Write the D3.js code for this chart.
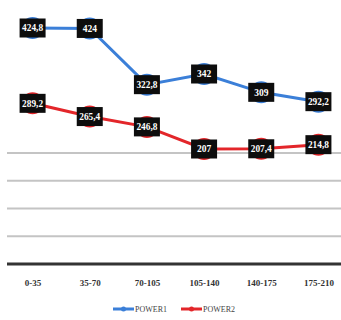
<!DOCTYPE html>
<html>
<head>
<meta charset="utf-8">
<script src="https://cdn.jsdelivr.net/npm/d3@7"></script>
<style>
  html, body { margin: 0; padding: 0; background: #fff; overflow: hidden; }
  svg { display: block; }
</style>
</head>
<body>
<svg id="chart" width="341" height="320"></svg>
<script>
// Speed ranges and measured power for each
const categories = ["0-35", "35-70", "70-105", "105-140", "140-175", "175-210"];
const power1 = [424.8, 424, 322.8, 342, 309, 292.2];
const power2 = [289.2, 265.4, 246.8, 207, 207.4, 214.8];
const seriesNames = ["POWER1", "POWER2"];
const seriesColors = ["#3b7fd8", "#e3262a"];
const gridValues = [50, 100, 150, 200];

const svg = d3.select("#chart");

const x = d3.scalePoint()
  .domain(categories)
  .range([4, 347])
  .padding(0.5);

const y = d3.scaleLinear()
  .domain([0, 450])
  .range([264, 14]);

// horizontal gridlines
svg.append("g")
  .selectAll("line")
  .data(gridValues)
  .join("line")
  .attr("x1", 7).attr("x2", 341)
  .attr("y1", d => y(d)).attr("y2", d => y(d))
  .attr("stroke", "#c4c4c4")
  .attr("stroke-width", 2);

// baseline
svg.append("line")
  .attr("x1", 7).attr("x2", 341)
  .attr("y1", y(0)).attr("y2", y(0))
  .attr("stroke", "#333")
  .attr("stroke-width", 3);

// category labels
const xAxis = d3.axisBottom(x).tickSize(0).tickPadding(0);
const gx = svg.append("g")
  .attr("transform", `translate(0, ${y(0) + 19})`)
  .call(xAxis);
gx.select(".domain").remove();
gx.selectAll("text")
  .attr("font-family", "'Liberation Serif', 'DejaVu Serif', serif")
  .attr("font-weight", "bold")
  .attr("font-size", 9)
  .attr("fill", "#333")
  .attr("dy", "0.35em");

const fmt = v => String(v).replace(".", ",");

const series = [power1, power2];
const line = d3.line()
  .x((d, i) => x(categories[i]))
  .y(d => y(d));

series.forEach((vals, s) => {
  const color = seriesColors[s];
  const g = svg.append("g");
  g.append("path")
    .datum(vals)
    .attr("d", line)
    .attr("fill", "none")
    .attr("stroke", color)
    .attr("stroke-width", 3);

  const pts = g.selectAll("g.pt")
    .data(vals)
    .join("g")
    .attr("class", "pt")
    .attr("transform", (d, i) => `translate(${x(categories[i])}, ${y(d)})`);

  pts.append("circle")
    .attr("r", 11)
    .attr("fill", color);

  pts.append("rect")
    .attr("x", -13).attr("y", -9.5)
    .attr("width", 26).attr("height", 19)
    .attr("fill", "#0d0d0d");

  pts.append("text")
    .attr("text-anchor", "middle")
    .attr("dy", "0.35em")
    .attr("font-family", "'Liberation Serif', 'DejaVu Serif', serif")
    .attr("font-weight", "bold")
    .attr("font-size", 9.5)
    .attr("textLength", d => fmt(d).length > 3 ? 21 : null)
    .attr("lengthAdjust", "spacingAndGlyphs")
    .attr("fill", "#fff")
    .text(d => fmt(d));
});

// legend
const legend = svg.append("g").attr("transform", "translate(0, 309)");
const legendX = [113, 181];
seriesNames.forEach((name, s) => {
  const lg = legend.append("g").attr("transform", `translate(${legendX[s]}, 0)`);
  lg.append("line")
    .attr("x1", 0).attr("x2", 21)
    .attr("stroke", seriesColors[s])
    .attr("stroke-width", 3);
  lg.append("circle")
    .attr("cx", 10.5).attr("r", 2.5)
    .attr("fill", seriesColors[s]);
  lg.append("text")
    .attr("x", 22)
    .attr("dy", "0.35em")
    .attr("font-family", "'Liberation Serif', 'DejaVu Serif', serif")
    .attr("font-size", 8)
    .attr("fill", "#444")
    .text(name);
});
</script>
</body>
</html>
